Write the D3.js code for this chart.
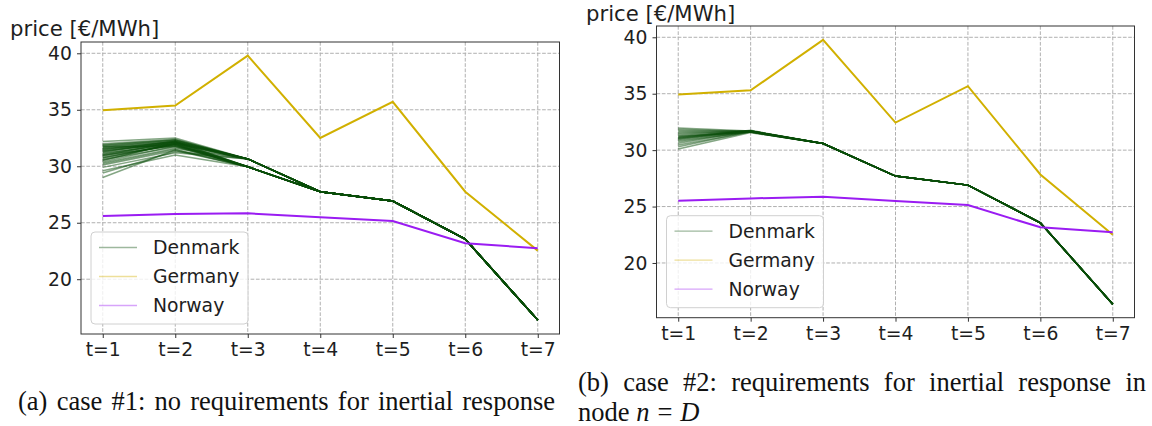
<!DOCTYPE html>
<html>
<head>
<meta charset="utf-8">
<script src="https://cdn.jsdelivr.net/npm/d3@7"></script>
<style>
  body { margin: 0; background: #fff; }
  svg { display: block; }
</style>
</head>
<body>
<div id="canvas"></div>
<script>
// time steps and labels
var periods = [1, 2, 3, 4, 5, 6, 7];
var tickLabels = ["t=1", "t=2", "t=3", "t=4", "t=5", "t=6", "t=7"];
var yTicks = [20, 25, 30, 35, 40];
var countries = ["Denmark", "Germany", "Norway"];

// case #1
var germanyA = [34.95, 35.37, 39.8, 32.5, 35.7, 27.75, 22.53];
var norwayA = [25.6, 25.77, 25.83, 25.48, 25.15, 23.18, 22.74];
var denmarkA = [
  [32.2, 32.5, 30.65, 27.75, 26.92, 23.55, 16.38],
  [32.0, 32.4, 30.65, 27.75, 26.92, 23.55, 16.38],
  [31.9, 32.3, 30.65, 27.75, 26.92, 23.55, 16.38],
  [31.8, 32.2, 29.95, 27.75, 26.92, 23.55, 16.38],
  [31.7, 32.3, 30.65, 27.75, 26.92, 23.55, 16.38],
  [31.6, 32.1, 29.95, 27.75, 26.92, 23.55, 16.38],
  [31.5, 32.2, 30.65, 27.75, 26.92, 23.55, 16.38],
  [31.4, 32.0, 29.95, 27.75, 26.92, 23.55, 16.38],
  [31.3, 32.1, 30.65, 27.75, 26.92, 23.55, 16.38],
  [31.2, 31.9, 29.95, 27.75, 26.92, 23.55, 16.38],
  [31.1, 32.0, 30.65, 27.75, 26.92, 23.55, 16.38],
  [31.0, 31.8, 29.95, 27.75, 26.92, 23.55, 16.38],
  [30.9, 32.2, 30.65, 27.75, 26.92, 23.55, 16.38],
  [30.8, 31.9, 29.95, 27.75, 26.92, 23.55, 16.38],
  [30.7, 32.0, 30.65, 27.75, 26.92, 23.55, 16.38],
  [30.6, 31.7, 29.95, 27.75, 26.92, 23.55, 16.38],
  [30.5, 32.1, 30.65, 27.75, 26.92, 23.55, 16.38],
  [30.4, 31.8, 29.95, 27.75, 26.92, 23.55, 16.38],
  [30.3, 31.6, 30.65, 27.75, 26.92, 23.55, 16.38],
  [30.1, 31.4, 29.95, 27.75, 26.92, 23.55, 16.38],
  [29.9, 31.2, 30.65, 27.75, 26.92, 23.55, 16.38],
  [29.6, 31.0, 29.95, 27.75, 26.92, 23.55, 16.38],
  [29.0, 31.45, 29.95, 27.75, 26.92, 23.55, 16.38],
  [31.85, 32.35, 30.65, 27.75, 26.92, 23.55, 16.38],
  [31.55, 31.95, 29.95, 27.75, 26.92, 23.55, 16.38],
  [31.25, 32.25, 30.65, 27.75, 26.92, 23.55, 16.38],
  [30.95, 31.85, 29.95, 27.75, 26.92, 23.55, 16.38],
  [31.75, 31.75, 30.65, 27.75, 26.92, 23.55, 16.38],
  [30.2, 31.5, 29.95, 27.75, 26.92, 23.55, 16.38],
  [29.4, 31.3, 30.65, 27.75, 26.92, 23.55, 16.38],
  [31.65, 32.15, 30.65, 27.75, 26.92, 23.55, 16.38],
  [31.35, 32.05, 29.95, 27.75, 26.92, 23.55, 16.38],
  [31.05, 32.1, 30.65, 27.75, 26.92, 23.55, 16.38],
  [30.75, 31.95, 29.95, 27.75, 26.92, 23.55, 16.38],
  [30.55, 32.0, 30.65, 27.75, 26.92, 23.55, 16.38],
  [31.45, 32.2, 29.95, 27.75, 26.92, 23.55, 16.38]
];

// case #2
var germanyB = [34.92, 35.3, 39.77, 32.44, 35.67, 27.84, 22.5];
var norwayB = [25.52, 25.72, 25.87, 25.49, 25.13, 23.16, 22.72];
var denmarkB = [
  [31.95, 31.7, 30.58, 27.7, 26.9, 23.56, 16.35],
  [31.85, 31.65, 30.58, 27.7, 26.9, 23.56, 16.35],
  [31.75, 31.7, 30.58, 27.7, 26.9, 23.56, 16.35],
  [31.65, 31.6, 30.58, 27.7, 26.9, 23.56, 16.35],
  [31.55, 31.7, 30.58, 27.7, 26.9, 23.56, 16.35],
  [31.45, 31.65, 30.58, 27.7, 26.9, 23.56, 16.35],
  [31.35, 31.7, 30.58, 27.7, 26.9, 23.56, 16.35],
  [31.25, 31.6, 30.58, 27.7, 26.9, 23.56, 16.35],
  [31.15, 31.7, 30.58, 27.7, 26.9, 23.56, 16.35],
  [31.05, 31.65, 30.58, 27.7, 26.9, 23.56, 16.35],
  [30.95, 31.7, 30.58, 27.7, 26.9, 23.56, 16.35],
  [30.85, 31.6, 30.58, 27.7, 26.9, 23.56, 16.35],
  [30.75, 31.65, 30.58, 27.7, 26.9, 23.56, 16.35],
  [30.6, 31.7, 30.58, 27.7, 26.9, 23.56, 16.35],
  [30.45, 31.6, 30.58, 27.7, 26.9, 23.56, 16.35],
  [30.3, 31.65, 30.58, 27.7, 26.9, 23.56, 16.35],
  [30.1, 31.55, 30.58, 27.7, 26.9, 23.56, 16.35],
  [31.1, 31.75, 30.58, 27.7, 26.9, 23.56, 16.35],
  [31.0, 31.7, 30.58, 27.7, 26.9, 23.56, 16.35],
  [31.2, 31.65, 30.58, 27.7, 26.9, 23.56, 16.35]
];

var colors = { Denmark: "#0a4d0a", Germany: "#d1b000", Norway: "#9a1cf2" };

var w = 1152, h = 426;
var svg = d3.select("#canvas").append("svg")
    .attr("width", w)
    .attr("height", h);

var sans = "'DejaVu Sans', sans-serif";
var serif = "'Liberation Serif', 'Times New Roman', serif";

function drawPanel(p) {
  var x = d3.scaleLinear().domain([0.7, 7.3]).range([p.left, p.right]);
  var y = d3.scaleLinear().domain([15.15, 41.0]).range([p.bottom, p.top]);
  var g = svg.append("g");

  // grid
  g.selectAll(".gx").data(periods).join("line")
    .attr("x1", d => x(d)).attr("x2", d => x(d))
    .attr("y1", p.top).attr("y2", p.bottom)
    .attr("stroke", "#b0b0b0").attr("stroke-dasharray", "3.7,1.6").attr("stroke-width", 1);
  g.selectAll(".gy").data(yTicks).join("line")
    .attr("x1", p.left).attr("x2", p.right)
    .attr("y1", d => y(d)).attr("y2", d => y(d))
    .attr("stroke", "#b0b0b0").attr("stroke-dasharray", "3.7,1.6").attr("stroke-width", 1);

  var line = d3.line()
    .x((d, i) => x(periods[i]))
    .y(d => y(d));

  // denmark scenarios, light lines that add up
  g.selectAll(".dk").data(p.denmark).join("path")
    .attr("d", line)
    .attr("fill", "none")
    .attr("stroke", colors.Denmark)
    .attr("stroke-opacity", 0.5)
    .attr("stroke-width", 1.5);

  g.append("path").datum(p.germany)
    .attr("d", line).attr("fill", "none")
    .attr("stroke", colors.Germany).attr("stroke-width", 2);
  g.append("path").datum(p.norway)
    .attr("d", line).attr("fill", "none")
    .attr("stroke", colors.Norway).attr("stroke-width", 2);

  // frame
  g.append("rect")
    .attr("x", p.left).attr("y", p.top)
    .attr("width", p.right - p.left).attr("height", p.bottom - p.top)
    .attr("fill", "none").attr("stroke", "#333").attr("stroke-width", 1);

  // axes
  var xAxis = d3.axisBottom(x).tickValues(periods)
    .tickFormat((d, i) => tickLabels[i]).tickSize(4).tickPadding(5);
  var ax = g.append("g").attr("transform", "translate(0," + p.bottom + ")").call(xAxis);
  var yAxis = d3.axisLeft(y).tickValues(yTicks).tickSize(4).tickPadding(5);
  var ay = g.append("g").attr("transform", "translate(" + p.left + ",0)").call(yAxis);
  [ax, ay].forEach(function (a) {
    a.select(".domain").remove();
    a.selectAll("line").attr("stroke", "#333");
    a.selectAll("text").attr("font-family", sans).attr("font-size", 18.8).attr("fill", "#1e1e1e");
  });

  g.append("text")
    .attr("x", p.labelX).attr("y", p.labelY)
    .attr("font-family", sans).attr("font-size", 21.2).attr("fill", "#1e1e1e")
    .text("price [€/MWh]");

  // legend
  var lx = p.left + 10, ly = p.bottom - 10 - 92;
  var lg = g.append("g").attr("transform", "translate(" + lx + "," + ly + ")");
  lg.append("rect")
    .attr("width", 157).attr("height", 92).attr("rx", 4)
    .attr("fill", "#fff").attr("fill-opacity", 0.8)
    .attr("stroke", "#d0d0d0");
  countries.forEach(function (c, i) {
    var cy = 15.5 + i * 29;
    lg.append("line")
      .attr("x1", 8).attr("x2", 46).attr("y1", cy).attr("y2", cy)
      .attr("stroke", colors[c]).attr("stroke-opacity", 0.4).attr("stroke-width", 1.3);
    lg.append("text")
      .attr("x", 62).attr("y", cy).attr("dy", "0.35em")
      .attr("font-family", sans).attr("font-size", 18.8).attr("fill", "#1e1e1e")
      .text(c);
  });
}

drawPanel({ left: 81, right: 559.5, top: 42, bottom: 334, labelX: 10, labelY: 36,
  germany: germanyA, norway: norwayA, denmark: denmarkA });
drawPanel({ left: 656.5, right: 1134.5, top: 26, bottom: 317.7, labelX: 586, labelY: 21,
  germany: germanyB, norway: norwayB, denmark: denmarkB });

// captions, words spread between two edges like the justified LaTeX text
function justify(words, left, right, yPos) {
  var t = svg.append("text")
    .attr("y", yPos)
    .attr("font-family", serif).attr("font-size", 26.5).attr("fill", "#111");
  var spans = t.selectAll("tspan").data(words).join("tspan").text(d => d);
  var widths = [];
  spans.each(function () { widths.push(this.getComputedTextLength()); });
  var gap = (right - left - d3.sum(widths)) / (words.length - 1);
  var cx = left;
  spans.attr("x", function (d, i) { var v = cx; cx += widths[i] + gap; return v; });
}

justify(["(a)", "case", "#1:", "no", "requirements", "for", "inertial", "response"], 18, 555, 410);
justify(["(b)", "case", "#2:", "requirements", "for", "inertial", "response", "in"], 578, 1146, 391);

var cap2 = svg.append("text")
  .attr("x", 578).attr("y", 421)
  .attr("font-family", serif).attr("font-size", 26.5).attr("fill", "#111");
cap2.append("tspan").text("node ");
cap2.append("tspan").attr("font-style", "italic").text("n");
cap2.append("tspan").attr("dx", 8).text("=");
cap2.append("tspan").attr("dx", 8).attr("font-style", "italic").text("D");
</script>
</body>
</html>
